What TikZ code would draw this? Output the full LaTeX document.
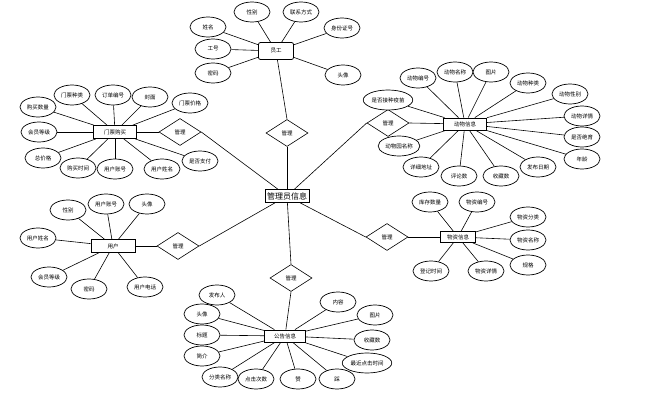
\documentclass[tikz,border=0pt]{standalone}
\usepackage{fontspec}
\setmainfont{Noto Sans CJK SC}
\usetikzlibrary{shapes.geometric}
\begin{document}
\begin{tikzpicture}[x=1pt,y=-1pt,
  attr/.style={ellipse,draw,line width=0.7pt,fill=white,minimum width=36pt,minimum height=20pt,inner sep=1pt,font=\fontsize{5.5}{6}\selectfont},
  ent/.style={rectangle,draw,line width=0.8pt,fill=white,minimum width=42pt,minimum height=13pt,inner sep=1pt,font=\fontsize{5.5}{6}\selectfont},
  rel/.style={diamond,draw,line width=0.6pt,fill=white,minimum width=42pt,minimum height=27pt,inner sep=0pt,aspect=1.6,font=\fontsize{5.5}{6}\selectfont},
  ln/.style={line width=0.6pt}]
\useasboundingbox (0,0) rectangle (662,401);
% center
\node[ent,minimum width=44pt,font=\fontsize{8}{9}\selectfont] (c) at (287,196) {管理员信息};
% relations
\node[rel] (dT) at (287,133) {管理};
\node[rel] (dTL) at (180,132) {管理};
\node[rel] (dBL) at (178,246) {管理};
\node[rel] (dB) at (291,278) {管理};
\node[rel] (dTR) at (388,123) {管理};
\node[rel] (dBR) at (387,237) {管理};
% entities
\node[ent,rounded corners=2pt,minimum width=35pt,minimum height=17pt] (emp) at (276,51) {员工};
\node[ent,minimum width=43pt] (tk) at (115,132) {门票购买};
\node[ent,minimum width=44pt] (usr) at (113,246) {用户};
\node[ent,minimum width=43pt,minimum height=12pt] (ani) at (465,124) {动物信息};
\node[ent,minimum width=35pt,minimum height=11pt] (sup) at (458,237) {物资信息};
\node[ent,minimum width=41pt,minimum height=12pt] (ann) at (285,336) {公告信息};
% relation links
\draw[ln] (emp) -- (dT.north);
\draw[ln] (dT.south) -- (c);
\draw[ln] (tk) -- (dTL.west);
\draw[ln] (dTL.east) -- (c);
\draw[ln] (usr) -- (dBL.west);
\draw[ln] (dBL.east) -- (c);
\draw[ln] (c) -- (dB.north);
\draw[ln] (dB.south) -- (ann);
\draw[ln] (c) -- (dTR.west);
\draw[ln] (dTR.east) -- (ani);
\draw[ln] (c) -- (dBR.west);
\draw[ln] (dBR.east) -- (sup);
% employee attrs
\foreach \n/\p/\t in {e1/{(252,12)}/性别, e2/{(301,12)}/联系方式, e3/{(208,27)}/姓名, e4/{(213,49)}/工号, e5/{(213,73)}/密码, e6/{(342,28)}/身份证号, e7/{(343,75)}/头像}
  {\node[attr] (\n) at \p {\t}; \draw[ln] (\n) -- (emp);}
% ticket attrs
\foreach \n/\p/\t in {t1/{(38,107)}/购买数量, t2/{(72,95)}/门票种类, t3/{(113,95)}/订单编号, t4/{(150,97)}/封面, t5/{(190,103)}/门票价格, t6/{(39,132)}/会员等级, t7/{(43,158)}/总价格, t8/{(78,168)}/购买时间, t9/{(115,169)}/用户账号, t10/{(162,169)}/用户姓名, t11/{(200,161)}/是否支付}
  {\node[attr] (\n) at \p {\t}; \draw[ln] (\n) -- (tk);}
% user attrs
\foreach \n/\p/\t in {u1/{(68,210)}/性别, u2/{(106,204)}/用户账号, u3/{(147,204)}/头像, u4/{(38,238)}/用户姓名, u5/{(49,277)}/会员等级, u6/{(89,289)}/密码, u7/{(145,287)}/用户电话}
  {\node[attr] (\n) at \p {\t}; \draw[ln] (\n) -- (usr);}
% animal attrs
\foreach \n/\p/\t in {a1/{(418,78)}/动物编号, a2/{(455,72)}/动物名称, a3/{(491,72)}/图片, a4/{(528,83)}/动物种类, a5/{(570,94)}/动物性别, a6/{(582,116)}/动物详情, a7/{(582,137)}/是否绝育, a8/{(582,159)}/年龄, a9/{(538,167)}/发布日期, a10/{(501,176)}/收藏数, a11/{(459,176)}/评论数, a12/{(421,167)}/详细地址, a13/{(399,146)}/动物园名称, a14/{(388,100)}/是否接种疫苗}
  {\node[attr] (\n) at \p {\t}; \draw[ln] (\n) -- (ani);}
% supplies attrs
\foreach \n/\p/\t in {s1/{(430,202)}/库存数量, s2/{(477,202)}/物资编号, s3/{(528,217)}/物资分类, s4/{(528,240)}/物资名称, s5/{(528,265)}/规格, s6/{(431,271)}/登记时间, s7/{(486,271)}/物资详情}
  {\node[attr] (\n) at \p {\t}; \draw[ln] (\n) -- (sup);}
% announcement attrs
\foreach \n/\p/\t in {n1/{(217,295)}/发布人, n2/{(202,314)}/头像, n3/{(202,335)}/标题, n4/{(202,356)}/简介, n5/{(220,377)}/分类名称, n6/{(256,379)}/点击次数, n7/{(298,379)}/赞, n8/{(337,379)}/踩, n9/{(367,363)}/最近点击时间, n10/{(372,340)}/收藏数, n11/{(375,315)}/图片, n12/{(338,302)}/内容}
  {\node[attr] (\n) at \p {\t}; \draw[ln] (\n) -- (ann);}
\end{tikzpicture}
\end{document}
